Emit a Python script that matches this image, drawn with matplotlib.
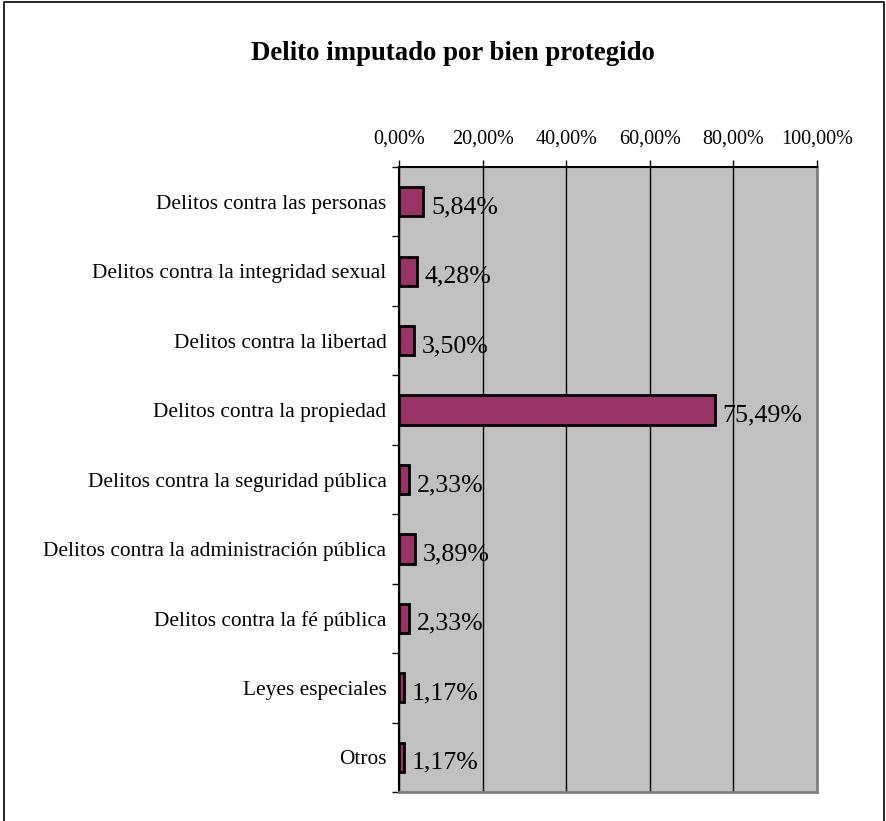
import matplotlib.pyplot as plt
from matplotlib.patches import Rectangle

categorias = ['Delitos contra las personas',
              'Delitos contra la integridad sexual',
              'Delitos contra la libertad',
              'Delitos contra la propiedad',
              'Delitos contra la seguridad pública',
              'Delitos contra la administración pública',
              'Delitos contra la fé pública',
              'Leyes especiales',
              'Otros']
valores = [5.84, 4.28, 3.50, 75.49, 2.33, 3.89, 2.33, 1.17, 1.17]
etiquetas = ['5,84%', '4,28%', '3,50%', '75,49%', '2,33%', '3,89%', '2,33%', '1,17%', '1,17%']
ticks_x = [0, 20, 40, 60, 80, 100]
ticks_x_lbl = ['0,00%', '20,00%', '40,00%', '60,00%', '80,00%', '100,00%']

plt.rcParams['font.family'] = ['Liberation Serif', 'DejaVu Serif']

fig = plt.figure(figsize=(8.87, 8.21), dpi=100)
# marco exterior (cortado abajo)
fig.patches.append(Rectangle((4 / 887, -0.05), 880 / 887, 1.05 - 2 / 821, transform=fig.transFigure,
                             fill=False, edgecolor='black', linewidth=1.2))

ax = fig.add_axes([399 / 887, 1 - 792 / 821, 418 / 887, 625 / 821])
ax.set_facecolor('#C0C0C0')

y = list(range(len(categorias)))
ax.barh(y, valores, height=0.42, color='#993366', edgecolor='black', linewidth=2, zorder=3)
for yi, v, lbl in zip(y, valores, etiquetas):
    ax.text(v + 1.9, yi + 0.08, lbl, va='center', ha='left', fontsize=18.6, zorder=4)

ax.set_xlim(0, 100)
ax.set_ylim(len(categorias) - 0.5, -0.5)
ax.set_xticks(ticks_x)
ax.set_xticklabels(ticks_x_lbl, fontsize=14.5)
ax.xaxis.tick_top()
ax.tick_params(axis='x', direction='out', length=5, width=1, pad=8)

ax.set_yticks([i - 0.5 for i in range(len(categorias) + 1)])
ax.set_yticklabels([])
ax.set_yticks(y, minor=True)
ax.set_yticklabels(categorias, minor=True, fontsize=15.4)
ax.tick_params(axis='y', which='major', direction='out', length=5, width=1)
ax.tick_params(axis='y', which='minor', length=0, pad=9)

ax.grid(axis='x', color='black', linewidth=1, zorder=1)
ax.spines['left'].set_color('black')
ax.spines['top'].set_color('black')
ax.spines['left'].set_linewidth(1.5)
ax.spines['top'].set_linewidth(1.5)
ax.spines['right'].set_color('#808080')
ax.spines['bottom'].set_color('#808080')
ax.spines['right'].set_linewidth(2)
ax.spines['bottom'].set_linewidth(2)

fig.text(453 / 887, 1 - 53 / 821, 'Delito imputado por bien protegido', ha='center', va='center',
         fontsize=19.3, fontweight='bold')

fig.savefig('out.png', dpi=100)
